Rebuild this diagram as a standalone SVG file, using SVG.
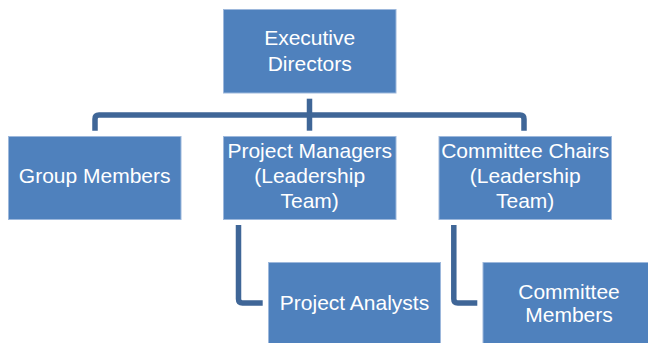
<svg xmlns="http://www.w3.org/2000/svg" width="648" height="343" viewBox="0 0 648 343">
<style>
.box{fill:#4F81BD;stroke:#9DB8DC;stroke-width:1}
.lbl{fill:#ffffff;font-family:"Liberation Sans",Arial,sans-serif;font-size:21px;text-anchor:middle}
.con{fill:none;stroke:#3F6697;stroke-width:5.5;stroke-linejoin:round}
</style>
<rect width="648" height="343" fill="#ffffff"/>
<g id="connectors">
<path class="con" d="M309.5,98.7 V130.7"/>
<path class="con" d="M95,130.7 V119 Q95,115 99,115 H520 Q524,115 524,119 V130.7"/>
<path class="con" d="M238.5,225 V299 Q238.5,303 242.5,303 H262.7"/>
<path class="con" d="M453.8,225 V299 Q453.8,303 457.8,303 H477.3"/>
</g>
<g id="exec">
<rect class="box" x="223.5" y="9.5" width="172.5" height="83.5"/>
<text class="lbl" x="309.7" y="45">Executive</text>
<text class="lbl" x="309.7" y="71">Directors</text>
</g>
<g id="group">
<rect class="box" x="8.5" y="136.5" width="172.5" height="83"/>
<text class="lbl" x="94.7" y="183">Group Members</text>
</g>
<g id="pm">
<rect class="box" x="223.5" y="136.5" width="172.5" height="83"/>
<text class="lbl" x="309.7" y="158">Project Managers</text>
<text class="lbl" x="309.7" y="183">(Leadership</text>
<text class="lbl" x="309.7" y="208">Team)</text>
</g>
<g id="cc">
<rect class="box" x="439" y="136.5" width="172.5" height="83"/>
<text class="lbl" x="525.2" y="158">Committee Chairs</text>
<text class="lbl" x="525.2" y="183">(Leadership</text>
<text class="lbl" x="525.2" y="208">Team)</text>
</g>
<g id="pa">
<rect class="box" x="268.5" y="262.5" width="172" height="83"/>
<text class="lbl" x="354.5" y="309.5">Project Analysts</text>
</g>
<g id="cm">
<rect class="box" x="483" y="262.5" width="172.5" height="83"/>
<text class="lbl" x="569" y="299">Committee</text>
<text class="lbl" x="569" y="322">Members</text>
</g>
</svg>
